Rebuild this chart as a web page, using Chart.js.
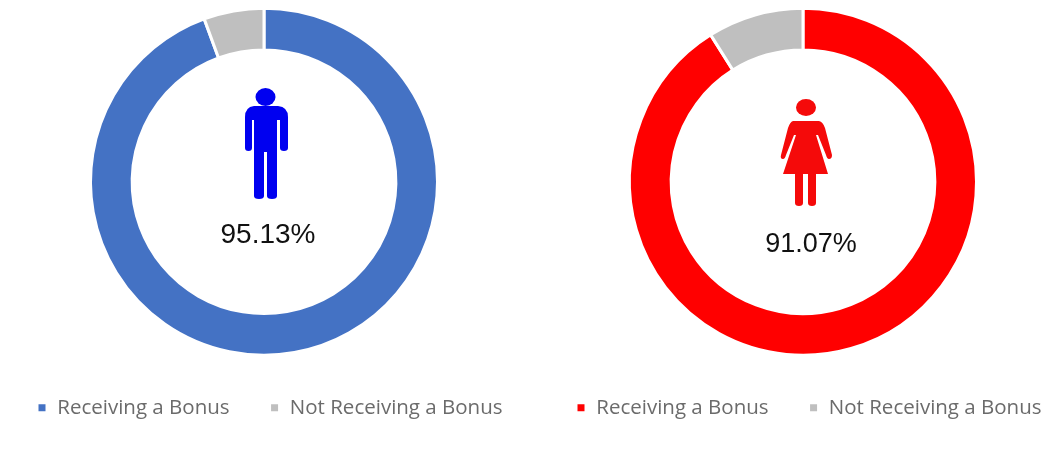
<!DOCTYPE html>
<html><head><meta charset="utf-8">
<script src="https://cdn.jsdelivr.net/npm/chart.js@4/dist/chart.umd.min.js"></script>
<style>
html,body{margin:0;padding:0;background:#fff;width:1052px;height:455px;overflow:hidden}
.box{position:absolute;top:0;height:428px}
.box canvas{filter:blur(.6px)}
.val{position:absolute;font-family:"Liberation Sans",Arial,sans-serif;color:#111;white-space:nowrap;transform:translate(-50%,-50%)}
svg{position:absolute;left:0;top:0;filter:blur(.6px)}
</style></head><body>
<div class="box" style="left:-3px;width:560px"><canvas id="c1"></canvas></div>
<div class="box" style="left:536px;width:560px"><canvas id="c2"></canvas></div>
<div class="val" id="v1" style="left:268px;top:234px;font-size:28px"></div>
<div class="val" id="v2" style="left:811px;top:243px;font-size:27px"></div>
<svg width="1052" height="455">
 <g fill="#0000F0">
  <ellipse cx="265.5" cy="97" rx="10" ry="9"/>
  <path d="M254 106Q245 107 245 117L245 148Q245 151 248.500 151Q252 151 252 148L252 120L254 120L254 196Q254 199 259 199Q264 199 264 196L264 152L267 152L267 196Q267 199 272 199Q277 199 277 196L277 120L280 120L280 148Q280 151 284 151Q288 151 288 148L288 117Q288 107 278 106Z"/>
 </g>
 <g fill="#F50A0A">
  <ellipse cx="806" cy="107.500" rx="10" ry="8.500"/>
  <path d="M793 121L819 121Q823 122 825 128L832 155Q832 159 829 159Q827 159 826 155L818 135L816 135L828 174L816 174L816 203Q816 206 812 206Q808 206 808 203L808 174L803 174L803 203Q803 206 799 206Q795 206 795 203L795 174L783 174L796 135L794 135L786 155Q785 159 783 159Q780 159 781 155L788 128Q790 122 793 121Z"/>
 </g>
</svg>
<script>
const categories = ["Receiving a Bonus", "Not Receiving a Bonus"];
const menValues = [94.4, 5.6];
const womenValues = [91.07, 8.93];
const menLabel = "95.13%";
const womenLabel = "91.07%";
const menColors = ["#4472C4", "#BFBFBF"];
const womenColors = ["#FF0000", "#BFBFBF"];

const shiftRing = {
  id: "shiftRing",
  afterLayout(chart) { chart.chartArea.left -= 13; chart.chartArea.right -= 13; }
};

function draw(id, values, colors) {
  new Chart(document.getElementById(id), {
    type: "doughnut",
    plugins: [shiftRing],
    data: { labels: categories, datasets: [{ data: values, backgroundColor: colors, borderColor: "#fff", borderWidth: 3, clip: false }] },
    options: {
      responsive: true, maintainAspectRatio: false, animation: false,
      radius: 173.5, cutout: "76%",
      layout: { padding: { top: 6 } },
      plugins: {
        tooltip: { enabled: false },
        legend: {
          position: "bottom", align: "start",
          labels: {
            padding: 40, boxWidth: 10, boxHeight: 10, color: "#6b6b6b",
            font: { family: "'Open Sans'", size: 20.5 }
          }
        }
      }
    }
  });
}
draw("c1", menValues, menColors);
draw("c2", womenValues, womenColors);
document.getElementById("v1").textContent = menLabel;
document.getElementById("v2").textContent = womenLabel;
</script>
</body></html>
